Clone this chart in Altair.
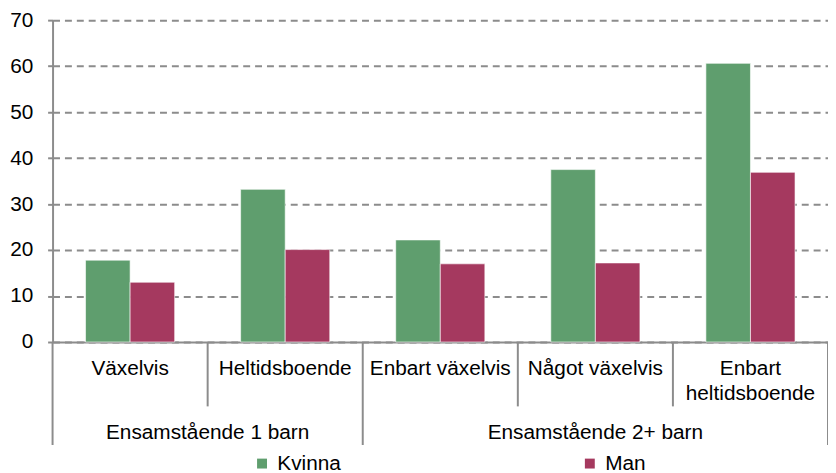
import altair as alt
import pandas as pd

# ---- data ----
categories = ["Växelvis", "Heltidsboende", "Enbart växelvis", "Något växelvis", "Enbart heltidsboende"]
groups = ["Ensamstående 1 barn", "Ensamstående 1 barn",
          "Ensamstående 2+ barn", "Ensamstående 2+ barn", "Ensamstående 2+ barn"]
group_names = ["Ensamstående 1 barn", "Ensamstående 2+ barn"]
sexes = ["Kvinna", "Man"]
kvinna = [17.8, 33.2, 22.2, 37.5, 60.6]
man = [13.0, 20.1, 17.0, 17.2, 36.9]
y_ticks = [0, 10, 20, 30, 40, 50, 60, 70]

colors = ["#5f9e6e", "#a5395f"]
FONT = "Liberation Sans"
FS = 21
GRAY = "#8c8c8c"

W = 783
H = 325

rows = []
for c, g, k, m in zip(categories, groups, kvinna, man):
    rows.append({"Kategori": c, "Grupp": g, "Kön": "Kvinna", "Andel": k})
    rows.append({"Kategori": c, "Grupp": g, "Kön": "Man", "Andel": m})
df = pd.DataFrame(rows)

xscale = alt.Scale(domain=categories, paddingInner=0, paddingOuter=0)

label_expr = ("datum.label == 'Enbart heltidsboende' ? ['Enbart', 'heltidsboende'] : datum.label")

x_axis = alt.Axis(title=None, ticks=False, tickSize=0, labelAngle=0,
                  labelFont=FONT, labelFontSize=FS, labelColor="#000000",
                  labelPadding=16, labelLineHeight=25, labelLimit=300,
                  labelExpr=label_expr, labelBaseline="top",
                  domainColor=GRAY, domainWidth=2, grid=False)


def xenc(bp=None):
    if bp is None:
        return alt.X("Kategori:N", sort=categories, scale=xscale, axis=x_axis)
    return alt.X("Kategori:N", sort=categories, scale=xscale, bandPosition=bp, axis=x_axis)


bars = alt.Chart(df).mark_bar(stroke="#ffffff", strokeWidth=1, strokeOpacity=0.6).encode(
    x=xenc(),
    xOffset=alt.XOffset("Kön:N", sort=sexes,
                        scale=alt.Scale(domain=sexes, paddingInner=0, paddingOuter=0.74)),
    y=alt.Y("Andel:Q", scale=alt.Scale(domain=[0, 70], nice=False),
            axis=alt.Axis(title=None, values=y_ticks, labelFont=FONT, labelFontSize=FS,
                          labelColor="#000000", labelPadding=15, tickSize=5,
                          tickColor=GRAY, tickWidth=2, domainColor=GRAY, domainWidth=2,
                          grid=True, gridColor=GRAY, gridWidth=2, gridDash=[7, 5])),
    color=alt.Color("Kön:N", scale=alt.Scale(domain=sexes, range=colors),
                    legend=alt.Legend(title=None, orient="none", legendX=201, legendY=437,
                                      direction="horizontal", symbolType="square",
                                      symbolSize=100, symbolStrokeWidth=0,
                                      labelFont=FONT, labelFontSize=FS, labelColor="#000000",
                                      labelOffset=5, columnPadding=240, padding=0)),
)

# separators below the axis
first_of_group = [categories[i] for i in range(len(categories)) if i == 0 or groups[i] != groups[i - 1]]
inner = [c for c in categories if c not in first_of_group]

short_df = pd.DataFrame({"Kategori": inner})
long_df = pd.DataFrame({"Kategori": first_of_group})
end_df = pd.DataFrame({"Kategori": [categories[-1]]})

short_rules = alt.Chart(short_df).mark_rule(color=GRAY, strokeWidth=2).encode(
    x=xenc(0), y=alt.value(H), y2=alt.value(H + 65))
long_rules = alt.Chart(long_df).mark_rule(color=GRAY, strokeWidth=2).encode(
    x=xenc(0), y=alt.value(H), y2=alt.value(H + 104))
end_rules = alt.Chart(end_df).mark_rule(color=GRAY, strokeWidth=2).encode(
    x=xenc(1), y=alt.value(H), y2=alt.value(H + 104))

# group labels centred under their categories
layers = [short_rules, long_rules, end_rules, bars]
for gname in group_names:
    cats = [c for c, g in zip(categories, groups) if g == gname]
    n = len(cats)
    if n % 2 == 0:
        anchor, bp = cats[n // 2 - 1], 1
    else:
        anchor, bp = cats[n // 2], 0.5
    gdf = pd.DataFrame({"Kategori": [anchor], "Grupp": [gname]})
    layers.append(
        alt.Chart(gdf).mark_text(font=FONT, fontSize=FS, color="#000000",
                                 align="center", baseline="alphabetic").encode(
            x=xenc(bp),
            y=alt.value(H + 98),
            text="Grupp:N")
    )

chart = alt.layer(*layers).properties(
    width=W, height=H,
    padding={"left": 45, "top": 10, "right": 0, "bottom": 130},
    autosize=alt.AutoSizeParams(type="none"),
    background="#ffffff",
).configure_view(stroke=None)

chart.save("out.html", embed_options={"renderer": "svg", "actions": False})
